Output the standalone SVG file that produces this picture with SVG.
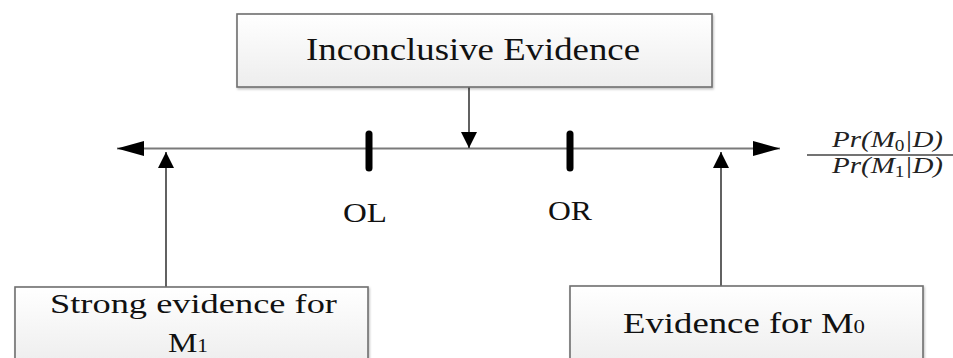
<svg xmlns="http://www.w3.org/2000/svg" width="953" height="358" viewBox="0 0 953 358">
  <defs>
    <linearGradient id="boxFill" x1="0" y1="0" x2="0" y2="1">
      <stop offset="0" stop-color="#ffffff"/>
      <stop offset="1" stop-color="#ededed"/>
    </linearGradient>
    <filter id="shadow" x="-5%" y="-10%" width="110%" height="130%">
      <feDropShadow dx="1" dy="1.5" stdDeviation="1" flood-color="#000" flood-opacity="0.25"/>
    </filter>
    <marker id="bigHead" viewBox="0 0 27 15" refX="27" refY="7.5" markerWidth="27" markerHeight="15" markerUnits="userSpaceOnUse" orient="auto-start-reverse">
      <path d="M0,0 L27,7.5 L0,15 z" fill="#000"/>
    </marker>
    <marker id="smallHead" viewBox="0 0 16 16" refX="16" refY="8" markerWidth="16" markerHeight="16" markerUnits="userSpaceOnUse" orient="auto">
      <path d="M0,0 L16,8 L0,16 z" fill="#000"/>
    </marker>
  </defs>
  <style>
    .box { fill: url(#boxFill); stroke: #6f6f6f; stroke-width: 1.6; filter: url(#shadow); }
    .lbl { fill: #111; }
    .axis { stroke: #7a7a7a; stroke-width: 2.2; fill: none; }
    .conn { stroke: #3a3a3a; stroke-width: 1.6; fill: none; }
    .tick { stroke: #000; stroke-width: 7; stroke-linecap: round; }
    .math { font-style: italic; fill: #222; }
  </style>

  <g id="connectors">
    <line class="axis" x1="117" y1="148.5" x2="780" y2="148.5" marker-start="url(#bigHead)" marker-end="url(#bigHead)"/>
    <line class="conn" x1="469" y1="87" x2="469" y2="148" marker-end="url(#smallHead)"/>
    <line class="conn" x1="166" y1="287" x2="166" y2="152" marker-end="url(#smallHead)"/>
    <line class="conn" x1="721" y1="286" x2="721" y2="152" marker-end="url(#smallHead)"/>
  </g>

  <g id="inconclusive">
    <rect class="box" x="237" y="14" width="475" height="73"/>
    <text class="lbl" font-family="Liberation Serif" x="306" y="60" font-size="31" textLength="334" lengthAdjust="spacingAndGlyphs">Inconclusive Evidence</text>
  </g>

  <g id="tick-OL">
    <line class="tick" x1="369" y1="134" x2="369" y2="168"/>
    <text class="lbl" font-family="Liberation Serif" x="343" y="222" font-size="27" textLength="44" lengthAdjust="spacingAndGlyphs">OL</text>
  </g>

  <g id="tick-OR">
    <line class="tick" x1="570" y1="134" x2="570" y2="168"/>
    <text class="lbl" font-family="Liberation Serif" x="548" y="220" font-size="27" textLength="44" lengthAdjust="spacingAndGlyphs">OR</text>
  </g>

  <g id="ratio">
    <text class="math" font-family="Liberation Serif" x="832" y="147" font-size="24" textLength="111" lengthAdjust="spacingAndGlyphs">Pr(M<tspan font-style="normal" font-size="16" dy="4">0</tspan><tspan dy="-4">|D)</tspan></text>
    <line x1="807" y1="155" x2="953" y2="155" stroke="#444" stroke-width="1.5"/>
    <text class="math" font-family="Liberation Serif" x="832" y="173" font-size="24" textLength="111" lengthAdjust="spacingAndGlyphs">Pr(M<tspan font-style="normal" font-size="16" dy="4">1</tspan><tspan dy="-4">|D)</tspan></text>
  </g>

  <g id="strong-evidence-m1">
    <rect class="box" x="15" y="287" width="353" height="80"/>
    <text class="lbl" font-family="Liberation Serif" x="50" y="313" font-size="27" textLength="287" lengthAdjust="spacingAndGlyphs">Strong evidence for</text>
    <text class="lbl" font-family="Liberation Serif" x="168" y="352" font-size="28" textLength="40" lengthAdjust="spacingAndGlyphs">M<tspan font-size="18">1</tspan></text>
  </g>

  <g id="evidence-m0">
    <rect class="box" x="570" y="286" width="353" height="80"/>
    <text class="lbl" font-family="Liberation Serif" x="623" y="333" font-size="29" textLength="242" lengthAdjust="spacingAndGlyphs">Evidence for M<tspan font-size="18">0</tspan></text>
  </g>
</svg>
